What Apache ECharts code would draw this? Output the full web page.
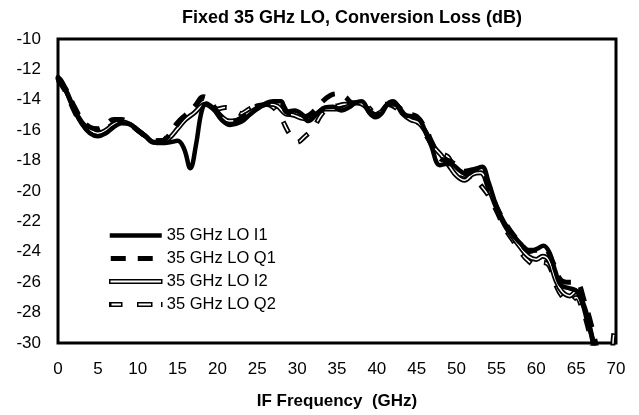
<!DOCTYPE html>
<html>
<head>
<meta charset="utf-8">
<title>Fixed 35 GHz LO, Conversion Loss</title>
<script src="https://cdn.jsdelivr.net/npm/echarts@6/dist/echarts.min.js"></script>
<style>
  html, body { margin: 0; padding: 0; background: #fff; }
  #chart { width: 639px; height: 415px; }
</style>
</head>
<body>
<div id="chart"></div>
<script>
// tick values
const xTicks = { min: 0, max: 70, step: 5 };
const yTicks = { min: -30, max: -10, step: 2 };

const names = ['35 GHz LO I1', '35 GHz LO Q1', '35 GHz LO I2', '35 GHz LO Q2'];

// [IF frequency GHz, conversion loss dB]
const loI1 = [
  [0, -12.5], [0.5, -12.8], [1, -13.4], [2, -14.6], [3, -15.6], [4, -16.2], [5, -16.4], [6, -16.2],
  [7, -15.8], [8, -15.55], [9, -15.6], [10, -16.0], [11, -16.4], [12, -16.8], [13, -16.85], [14, -16.8],
  [15, -16.7], [15.8, -17.2], [16.6, -18.5], [17.3, -17.0], [18, -14.8], [18.6, -14.25], [19.5, -14.6],
  [20.5, -15.3], [21.6, -15.65], [23, -15.45], [24, -15.0], [25, -14.6], [26.2, -14.2], [27, -14.1],
  [28, -14.1], [28.6, -14.8], [29.7, -14.7], [30.7, -15.0], [31.4, -15.4], [32.4, -14.95], [33.5, -14.5],
  [34.5, -14.45], [35.6, -14.7], [36.5, -14.5], [37.3, -14.2], [38.1, -14.1], [39, -14.8], [39.8, -15.15],
  [40.6, -14.9], [41.3, -14.3], [42, -14.1], [42.8, -14.5], [43.6, -15.0], [44.6, -15.1], [45.4, -15.3],
  [46, -16.0], [46.8, -17.0], [47.9, -18.3], [48.8, -18.2], [49.6, -18.3], [50.5, -18.7], [51.3, -18.9],
  [52.3, -18.6], [53.2, -18.4], [54, -19.4], [55, -21.0], [56, -22.1], [57.1, -22.9], [58.1, -23.5],
  [59.2, -24.0], [60.1, -23.8], [60.9, -23.6], [61.7, -24.1], [62.4, -25.3], [63.1, -26.2], [64.2, -26.4],
  [65.1, -26.6], [65.8, -27.4], [66.4, -28.6], [67, -29.6], [67.4, -30.4]
];
const loQ1 = [
  [0, -12.6], [1, -13.3], [2, -14.4], [3, -15.3], [4, -15.8], [5, -15.9], [6, -15.6], [7, -15.3],
  [8, -15.3], [9, -15.6], [10, -16.0], [11, -16.4], [12, -16.7], [13, -16.7], [14, -16.3], [15, -15.6],
  [16, -15.0], [17, -14.6], [18.2, -13.8], [19, -14.0], [20, -14.8], [21, -15.3], [22, -15.4], [23, -15.2],
  [24, -14.8], [25, -14.4], [26, -14.3], [27, -14.1], [28, -14.2], [29, -14.9], [30, -14.8], [31, -15.1],
  [32, -14.8], [33, -14.2], [34.2, -13.7], [35.2, -13.6], [36, -13.8], [37, -14.2], [38, -14.2], [39, -14.7],
  [40, -15.0], [41, -14.6], [42, -14.2], [43, -14.6], [44, -14.9], [45, -15.1], [46, -15.8], [47, -16.9],
  [48, -17.9], [49, -18.0], [50, -18.3], [51, -18.7], [52, -18.6], [53, -18.5], [54, -19.6], [55, -21.0],
  [56, -22.0], [57, -22.8], [58, -23.4], [59, -23.9], [60, -23.9], [61, -23.8], [62, -24.6], [63, -25.8],
  [64, -26.0], [65, -26.0], [66, -27.2], [67, -29.0], [67.6, -30.4]
];
const loI2 = [
  [0, -12.6], [1, -13.4], [2, -14.6], [3, -15.5], [4, -16.0], [5, -16.2], [6, -16.0], [7, -15.6],
  [8, -15.45], [9, -15.6], [10, -16.0], [11, -16.4], [12, -16.8], [13, -16.8], [14, -16.5], [15, -15.9],
  [16, -15.3], [17, -14.9], [18.5, -14.3], [19.5, -14.6], [20.5, -15.1], [21.5, -15.4], [22.5, -15.35],
  [23.5, -15.0], [24.5, -14.7], [25.5, -14.4], [26.5, -14.3], [27.5, -14.4], [28.5, -14.9], [29.5, -15.0],
  [30.5, -15.2], [31.5, -15.3], [32.5, -14.9], [33.5, -14.6], [34.5, -14.6], [35.5, -14.6], [36.5, -14.4],
  [37.5, -14.2], [38.5, -14.4], [39.5, -15.0], [40.5, -14.8], [41.5, -14.3], [42.3, -14.3], [43.2, -14.9],
  [44.2, -15.3], [45.2, -15.5], [46, -16.0], [47, -17.0], [48, -17.6], [49, -18.3], [50, -19.0], [51, -19.3],
  [52, -18.9], [53, -18.8], [54, -19.8], [55, -21.1], [56, -22.2], [57, -23.0], [58, -23.7], [59, -24.3],
  [60, -24.5], [60.8, -24.3], [61.6, -24.6], [62.4, -25.8], [63.2, -26.6], [64.2, -26.9], [65, -26.6],
  [65.8, -27.3], [66.5, -28.5], [67.2, -30.2]
];
const loQ2 = [
  [0, -12.7], [1, -13.5], [2, -14.7], [3, -15.6], [4, -16.0], [5, -16.1], [6, -15.9], [7, -15.6],
  [8, -15.4], [9, -15.6], [10, -16.0], [11, -16.4], [12, -16.7], [13, -16.7], [14, -16.2], [15, -15.5],
  [16, -15.0], [17, -14.5], [18.3, -13.9], [19.2, -14.4], [20, -14.6], [21, -14.5], [22, -14.6], [23, -14.9],
  [24, -14.6], [25, -14.4], [26, -14.3], [27, -14.5], [28, -15.2], [29, -16.2], [30, -16.8], [31, -16.4],
  [32, -15.9], [33, -15.0], [34, -14.5], [35, -14.4], [36, -14.3], [37, -14.4], [38, -14.2], [39, -14.6],
  [40, -14.3], [41, -14.3], [42, -14.4], [43, -14.8], [44, -15.1], [45, -15.4], [46, -16.2], [47, -17.0],
  [48, -17.5], [49, -17.8], [50, -18.9], [51, -19.2], [52, -19.0], [53, -19.6], [54, -20.3], [55, -21.3],
  [56, -22.4], [57, -23.2], [58, -24.0], [59, -24.6], [60, -24.9], [60.8, -24.7], [61.6, -24.9],
  [62.4, -26.1], [63.2, -26.9], [64.2, -27.3], [65, -27.0], [65.8, -27.8], [66.5, -29.0], [67.2, -30.5],
  [68, -31.5], [69.3, -31.5], [69.7, -29.5], [70, -28.6]
];

const FONT = 'Liberation Sans';

// legend icons drawn as paths, 52px wide
const iconSolid = 'path://M0,0H52V4.5H0Z';
const iconDash = 'path://M0,0H0.01V5H0Z M1,0H16V5H1Z M28,0H43V5H28Z M51.99,0H52V5H51.99Z';
const iconDouble = 'path://M0,0H52V3.5H0Z';
const iconDoubleDash = 'path://M0,0H0.01V3.5H0Z M1,0H12V3.5H1Z M28,0H42V3.5H28Z M51.99,0H52V3.5H51.99Z';

function lineSeries(name, data, lineStyle, z) {
  return {
    name: name,
    type: 'line',
    data: data,
    smooth: 0.4,
    symbol: 'none',
    z: z,
    itemStyle: { color: '#000' },
    lineStyle: Object.assign({ color: '#000', cap: 'round', join: 'round' }, lineStyle)
  };
}

const chart = echarts.init(document.getElementById('chart'), null, { renderer: 'canvas' });

chart.setOption({
  animation: false,
  backgroundColor: '#fff',
  title: {
    text: 'Fixed 35 GHz LO, Conversion Loss (dB)',
    left: 182,
    top: 9,
    padding: 0,
    textStyle: { fontFamily: FONT, fontSize: 18, fontWeight: 'bold', color: '#000' }
  },
  grid: {
    left: 58, right: 23, top: 39, bottom: 72,
    show: true, borderColor: '#000', borderWidth: 3, backgroundColor: '#fff', z: 1
  },
  legend: {
    data: [
      { name: names[0], icon: iconSolid, itemStyle: { color: '#000', borderWidth: 0 } },
      { name: names[1], icon: iconDash, itemStyle: { color: '#000', borderWidth: 0 } },
      { name: names[2], icon: iconDouble, itemStyle: { color: '#fff', borderColor: '#000', borderWidth: 1.5 } },
      { name: names[3], icon: iconDoubleDash, itemStyle: { color: '#fff', borderColor: '#000', borderWidth: 1.5 } }
    ],
    orient: 'vertical',
    left: 97, top: 226,
    padding: [1, 10, 1, 12],
    itemWidth: 52, itemHeight: 16, itemGap: 6,
    backgroundColor: '#fff',
    selectedMode: false,
    textStyle: { fontFamily: FONT, fontSize: 16.5, color: '#000', lineHeight: 16 },
    z: 10
  },
  xAxis: {
    type: 'value',
    min: xTicks.min, max: xTicks.max, interval: xTicks.step,
    name: 'IF Frequency  (GHz)',
    nameLocation: 'middle',
    nameGap: 50,
    nameTextStyle: { fontFamily: FONT, fontSize: 17, fontWeight: 'bold', color: '#000' },
    axisLine: { show: false },
    axisTick: { show: false },
    axisLabel: { margin: 18, fontFamily: FONT, fontSize: 17, color: '#000' },
    splitLine: { show: true, lineStyle: { color: '#b0b0b0', width: 2 } }
  },
  yAxis: {
    type: 'value',
    min: yTicks.min, max: yTicks.max, interval: yTicks.step,
    axisLine: { show: false },
    axisTick: { show: false },
    axisLabel: { margin: 17, fontFamily: FONT, fontSize: 17, color: '#000' },
    splitLine: { show: true, lineStyle: { color: '#b0b0b0', width: 2 } }
  },
  series: [
    lineSeries(names[3], loQ2, { width: 5, type: [13, 14], cap: 'butt' }, 2),
    lineSeries('Q2 core', loQ2, { width: 1.5, color: '#fff', type: [10, 17], dashOffset: -1.5, cap: 'butt' }, 3),
    lineSeries(names[2], loI2, { width: 5 }, 4),
    lineSeries('I2 core', loI2, { width: 1.5, color: '#fff' }, 5),
    lineSeries(names[1], loQ1, { width: 5, type: [15, 12], cap: 'butt' }, 6),
    lineSeries(names[0], loI1, { width: 4.5 }, 7)
  ]
});
</script>
</body>
</html>
